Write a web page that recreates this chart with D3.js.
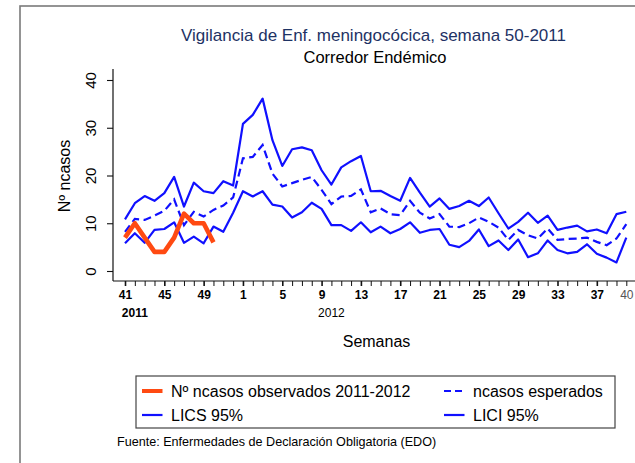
<!DOCTYPE html>
<html>
<head>
<meta charset="utf-8">
<script src="https://cdn.jsdelivr.net/npm/d3@7"></script>
<style>
  html, body { margin: 0; padding: 0; background: #fff; }
  svg { display: block; font-family: "Liberation Sans", Arial, sans-serif; }
</style>
</head>
<body>
<svg id="chart" width="635" height="463"></svg>
<script>
// ---- data ----
const weeks = [41,42,43,44,45,46,47,48,49,50,51,52,
  1,2,3,4,5,6,7,8,9,10,11,12,13,14,15,16,17,18,19,20,
  21,22,23,24,25,26,27,28,29,30,31,32,33,34,35,36,37,38,39,40];
const observados = [7,10,7,4,4,7,12,10,10,6];
const lics = [10.8,14.2,15.7,14.7,16.3,19.7,13.5,18.5,16.7,16.3,18.8,17.9,
  30.8,32.7,36.1,27.4,22.0,25.5,25.9,25.3,21.1,18.1,21.7,23.0,24.1,16.7,
  16.8,15.7,14.7,19.5,16.4,13.5,15.2,13.0,13.6,14.7,13.6,15.4,12.1,8.9,
  10.3,12.2,10.1,11.6,8.6,9.1,9.5,8.3,8.7,7.9,11.9,12.4];
const esperados = [8.2,10.9,10.7,11.6,12.6,15.0,9.6,12.4,11.4,12.8,13.7,15.4,
  23.6,23.9,26.4,20.4,17.7,18.4,19.1,19.7,17.0,14.0,15.6,15.7,17.1,12.3,
  13.1,11.9,11.7,14.7,12.2,11.0,11.9,9.3,9.2,10.0,11.2,10.3,9.1,6.5,
  8.6,7.5,6.8,8.9,6.5,6.7,6.8,7.0,6.1,5.4,6.8,9.8];
const lici = [5.8,7.9,5.9,8.6,8.8,10.2,5.9,7.2,5.8,9.3,8.2,12.2,
  16.7,15.6,16.7,13.9,13.5,11.2,12.3,14.3,13.0,9.6,9.6,8.4,10.2,8.1,
  9.3,7.9,8.8,10.2,8.0,8.6,8.8,5.5,5.0,6.3,8.7,5.2,6.4,4.4,
  6.6,2.9,3.7,6.4,4.4,3.7,4.0,5.6,3.6,2.8,1.8,7.0];
const yTicks = [0,10,20,30,40];
const labelIdx = [0,4,8,12,16,20,24,28,32,36,40,44,48];
const lastIdx = 51;
const titleText = "Vigilancia de Enf. meningocócica, semana 50-2011";
const subtitleText = "Corredor Endémico";
const yTitle = "Nº ncasos";
const xTitle = "Semanas";
const yearLabels = [{text:"2011", idx:1, bold:true}, {text:"2012", idx:21, bold:false}];
const legendItems = [
  {label:"Nº ncasos observados 2011-2012", color:"#ff4a12", width:4.5, dash:null},
  {label:"ncasos esperados", color:"#1010ff", width:2.2, dash:"7,4"},
  {label:"LICS 95%", color:"#1010ff", width:2.2, dash:null},
  {label:"LICI 95%", color:"#1010ff", width:2.2, dash:null}
];
const footer = "Fuente: Enfermedades de Declaración Obligatoria (EDO)";

// ---- drawing ----
const svg = d3.select("#chart");
const blue = "#1010ff", orange = "#ff4a12";

// outer frame
svg.append("rect").attr("x",20).attr("y",6).attr("width",700).attr("height",600)
  .attr("fill","none").attr("stroke","#7a7a7a").attr("stroke-width",1.6);

const x = d3.scaleLinear().domain([0, 51]).range([125, 626.3]);
const y = d3.scaleLinear().domain([0, 40]).range([271, 80]);

// titles
svg.append("text").attr("x",373.5).attr("y",41).attr("text-anchor","middle")
  .attr("font-size",17).attr("fill","#1e3264").text(titleText);
svg.append("text").attr("x",375).attr("y",62.5).attr("text-anchor","middle")
  .attr("font-size",16.5).attr("fill","#000").text(subtitleText);

// y axis
const yAxis = d3.axisLeft(y).tickValues(yTicks).tickSize(6).tickFormat(d3.format("d"));
const gy = svg.append("g").attr("transform","translate(113,0)").call(yAxis);
gy.select(".domain").remove();
gy.selectAll(".tick line").attr("stroke","#111").attr("stroke-width",1.1);
gy.selectAll(".tick text").attr("font-size",15).attr("fill","#000")
  .attr("x",0).attr("dy",null).attr("text-anchor","middle")
  .attr("transform","translate(-17,0) rotate(-90)")
  .attr("y",-0).attr("dominant-baseline","auto");
gy.attr("font-family",null);
svg.append("line").attr("x1",113).attr("x2",113).attr("y1",y(42.3)).attr("y2",281)
  .attr("stroke","#111").attr("stroke-width",1.2);

// y title
svg.append("text").attr("transform","translate(70,176) rotate(-90)")
  .attr("text-anchor","middle").attr("font-size",16).attr("fill","#000").text(yTitle);

// x axis
svg.append("line").attr("x1",113).attr("x2",640).attr("y1",281).attr("y2",281)
  .attr("stroke","#111").attr("stroke-width",1.2);
const xAxis = d3.axisBottom(x).tickValues(d3.range(weeks.length)).tickSize(5)
  .tickFormat(i => labelIdx.includes(i) ? weeks[i] : (i === lastIdx ? weeks[i] : ""));
const gx = svg.append("g").attr("transform","translate(0,281)").call(xAxis);
gx.select(".domain").remove();
gx.attr("font-family",null);
gx.selectAll(".tick line").attr("stroke","#111")
  .attr("stroke-width", d => labelIdx.includes(d) ? 1.6 : 1);
gx.selectAll(".tick text").attr("font-size",12).attr("fill", d => d === lastIdx ? "#555" : "#000")
  .attr("font-weight", d => d === lastIdx ? "normal" : "bold")
  .attr("y",18).attr("dy",null);

// year labels
yearLabels.forEach(l => {
  svg.append("text").attr("x",x(l.idx)).attr("y",317).attr("text-anchor","middle")
    .attr("font-size",12).attr("font-weight",l.bold ? "bold" : "normal").attr("fill","#000").text(l.text);
});

// x title
svg.append("text").attr("x",376.5).attr("y",346.5).attr("text-anchor","middle")
  .attr("font-size",16).attr("fill","#000").text(xTitle);

// lines
const line = d3.line().x((d,i) => x(i)).y(d => y(d));
svg.append("path").datum(lics).attr("d",line).attr("fill","none")
  .attr("stroke",blue).attr("stroke-width",2.2).attr("stroke-linejoin","round");
svg.append("path").datum(lici).attr("d",line).attr("fill","none")
  .attr("stroke",blue).attr("stroke-width",2.2).attr("stroke-linejoin","round");
svg.append("path").datum(esperados).attr("d",line).attr("fill","none")
  .attr("stroke",blue).attr("stroke-width",2.2).attr("stroke-dasharray","8,4.5");
svg.append("path").datum(observados).attr("d",line).attr("fill","none")
  .attr("stroke",orange).attr("stroke-width",4.6).attr("stroke-linejoin","round");

// legend
svg.append("rect").attr("x",136).attr("y",376).attr("width",479).attr("height",52)
  .attr("fill","#fff").attr("stroke","#444").attr("stroke-width",1.2);
const legPos = [[142,391],[444,391],[142,415],[444,415]];
legendItems.forEach((it, k) => {
  const [lx, ly] = legPos[k];
  svg.append("line").attr("x1",lx).attr("x2",lx+20.5).attr("y1",ly).attr("y2",ly)
    .attr("stroke",it.color).attr("stroke-width",it.width === 2.2 ? 2.2 : 4)
    .attr("stroke-dasharray", it.dash ? "7,4" : null);
  svg.append("text").attr("x",lx+29).attr("y",ly+5.8).attr("font-size",16)
    .attr("fill","#000").text(it.label);
});

// footer
svg.append("text").attr("x",117).attr("y",446).attr("font-size",12.6)
  .attr("fill","#000").text(footer);
</script>
</body>
</html>
